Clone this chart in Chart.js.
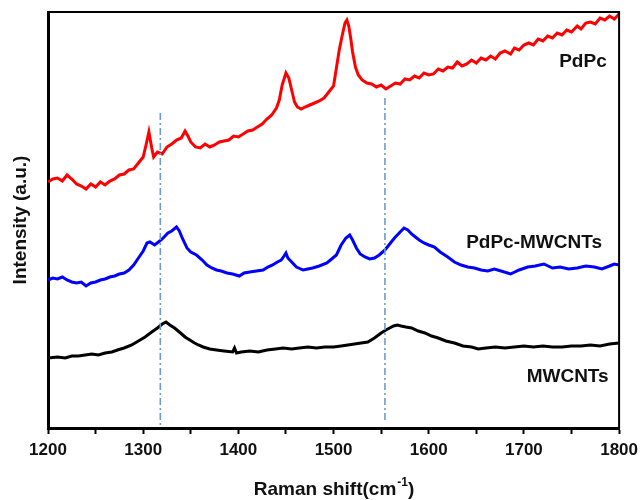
<!DOCTYPE html>
<html>
<head>
<meta charset="utf-8">
<script src="https://cdn.jsdelivr.net/npm/chart.js@4/dist/chart.umd.min.js"></script>
<style>
  html, body { margin: 0; padding: 0; background: #ffffff; }
  #wrap { width: 644px; height: 500px; position: relative; }
</style>
</head>
<body>
<div id="wrap"><canvas id="c" width="644" height="500"></canvas></div>
<script>
// ---- data (Raman shift in cm^-1, intensity in arbitrary units, offset traces) ----
const seriesNames = ['PdPc', 'PdPc-MWCNTs', 'MWCNTs'];

const pdpcX = [1200,1205,1210,1215,1220,1225,1230,1235,1240,1245,1250,1255,1260,1265,1270,1275,1280,1285,1290,1295,1300,1303,1306,1309,1311,1315,1320,1325,1330,1335,1340,1344,1347,1350,1355,1360,1365,1370,1375,1380,1385,1390,1395,1400,1405,1410,1415,1420,1425,1430,1435,1440,1443,1446,1450,1453,1456,1459,1462,1466,1470,1475,1480,1485,1490,1495,1500,1503,1506,1509,1512,1514,1516,1518,1520,1523,1526,1530,1535,1540,1545,1550,1555,1560,1565,1570,1575,1580,1585,1590,1595,1600,1605,1610,1615,1620,1625,1630,1635,1640,1645,1650,1655,1660,1665,1670,1675,1680,1686,1690,1695,1700,1705,1710,1715,1720,1725,1730,1735,1740,1745,1750,1756,1760,1765,1770,1775,1780,1785,1790,1795,1800];
const pdpcY = [246,249,250,247,253,249,244,242,239,244,241,246,243,247,249,253,254,258,259,265,271,283,296,280,271,276,274,281,284,288,290,297,292,286,281,280,284,281,283,286,287,288,292,291,294,297,298,301,304,309,313,320,328,343,355,350,338,326,321,319,321,323,325,327,330,336,342,360,378,392,405,408,402,390,376,361,353,348,345,344,341,343,339,342,345,344,349,348,352,350,355,353,354,359,357,361,360,366,362,364,368,365,370,368,372,369,375,377,374,380,378,383,385,383,389,387,392,390,395,393,398,396,402,399,405,406,404,410,408,412,409,414];

const hybX = [1200,1205,1210,1215,1220,1225,1230,1235,1240,1245,1250,1255,1260,1265,1270,1275,1280,1285,1290,1295,1300,1304,1307,1312,1316,1320,1326,1330,1335,1338,1341,1346,1350,1356,1362,1367,1372,1377,1382,1388,1394,1401,1406,1412,1419,1426,1431,1436,1441,1445,1448,1450,1452,1455,1461,1468,1473,1478,1485,1493,1498,1503,1508,1513,1517,1520,1524,1528,1533,1538,1543,1548,1554,1559,1564,1570,1574,1578,1582,1586,1590,1595,1600,1606,1612,1620,1627,1634,1641,1648,1655,1662,1669,1676,1686,1695,1704,1712,1721,1730,1738,1747,1756,1765,1774,1782,1790,1795,1800];
const hybY = [148,150,149,151,148,146,145,146,142,145,146,148,149,151,152,154,155,158,163,170,177,185,186,183,186,189,195,197,201,197,190,180,176,173,168,163,160,158,157,155,154,152,155,156,157,158,161,163,166,168,172,175,170,167,161,158,159,160,162,165,169,173,183,190,193,188,180,174,171,169,170,173,178,184,190,196,200,198,194,191,188,185,183,181,176,171,166,163,161,160,158,157,159,157,154,158,161,162,164,160,161,159,160,162,161,159,162,164,163];

const cntX = [1200,1210,1218,1225,1232,1239,1246,1253,1260,1267,1273,1280,1288,1295,1302,1309,1315,1320,1324,1328,1333,1338,1344,1349,1354,1358,1363,1370,1377,1385,1394,1396,1398,1403,1412,1421,1430,1439,1447,1456,1464,1473,1482,1491,1500,1508,1515,1522,1529,1536,1543,1550,1555,1559,1563,1567,1571,1576,1582,1589,1596,1603,1610,1618,1627,1636,1645,1652,1660,1670,1680,1690,1700,1710,1720,1730,1740,1750,1760,1770,1780,1790,1800];
const cntY = [70,71,70,72,72,73,74,73,75,76,78,80,83,87,91,96,100,104,106,103,100,96,91,88,85,83,81,79,78,77,76,80,75,76,77,76,78,79,80,79,80,81,80,81,81,82,83,84,85,86,90,95,98,100,102,103,102,101,100,97,95,92,90,87,85,82,81,79,80,81,80,81,82,81,82,81,81,82,82,83,82,84,85];

// reference dash-dot guide lines (band positions)
const guideX = [1318, 1554];
const guideTop = [315, 330];
const guideBottom = [0, 8];

const xTicks = [1200, 1300, 1400, 1500, 1600, 1700, 1800];

// ---- build datasets ----
function pts(xs, ys) { return xs.map((x, i) => ({ x: x, y: ys[i] })); }

const guideColor = '#6d9bd0';
const datasets = [];
guideX.forEach((gx, i) => {
  datasets.push({
    label: 'guide' + i,
    data: [{ x: gx, y: guideTop[i] }, { x: gx, y: guideBottom[i] }],
    borderColor: guideColor,
    borderWidth: 1.6,
    borderDash: [7, 3, 2, 3],
    pointRadius: 0,
    fill: false
  });
});
datasets.push({ label: seriesNames[0], data: pts(pdpcX, pdpcY), borderColor: '#ff0000', borderWidth: 3, pointRadius: 0, fill: false });
datasets.push({ label: seriesNames[1], data: pts(hybX, hybY), borderColor: '#0000ff', borderWidth: 3, pointRadius: 0, fill: false });
datasets.push({ label: seriesNames[2], data: pts(cntX, cntY), borderColor: '#000000', borderWidth: 3, pointRadius: 0, fill: false });

// label anchors (data units): right-aligned text
const labelAnchors = [
  { x: 1787, y: 366 },
  { x: 1782, y: 185 },
  { x: 1789, y: 51 }
];

const annotatePlugin = {
  id: 'annot',
  afterDraw(chart) {
    const ctx = chart.ctx;
    const xs = chart.scales.x, ys = chart.scales.y;
    const ca = chart.chartArea;
    ctx.save();
    // frame (top and right)
    ctx.strokeStyle = '#000';
    ctx.lineWidth = 2;
    ctx.beginPath();
    ctx.moveTo(ca.left, ca.top);
    ctx.lineTo(ca.right, ca.top);
    ctx.lineTo(ca.right, ca.bottom);
    ctx.stroke();
    // series labels
    ctx.fillStyle = '#111';
    ctx.font = 'bold 19px "Liberation Sans", Arial, sans-serif';
    ctx.textAlign = 'right';
    ctx.textBaseline = 'middle';
    seriesNames.forEach((n, i) => {
      ctx.fillText(n, xs.getPixelForValue(labelAnchors[i].x), ys.getPixelForValue(labelAnchors[i].y));
    });
    // x axis title with superscript
    const main = 'Raman shift(cm';
    const sup = '-1';
    const close = ')';
    const fMain = 'bold 19px "Liberation Sans", Arial, sans-serif';
    const fSup = 'bold 12px "Liberation Sans", Arial, sans-serif';
    ctx.font = fMain;
    const w1 = ctx.measureText(main).width;
    const w3 = ctx.measureText(close).width;
    ctx.font = fSup;
    const w2 = ctx.measureText(sup).width;
    const total = w1 + w2 + w3;
    const cx = (ca.left + ca.right) / 2;
    let x0 = cx - total / 2;
    const base = 495;
    ctx.textAlign = 'left';
    ctx.textBaseline = 'alphabetic';
    ctx.font = fMain;
    ctx.fillText(main, x0, base);
    ctx.font = fSup;
    ctx.fillText(sup, x0 + w1 + 1, base - 9);
    ctx.font = fMain;
    ctx.fillText(close, x0 + w1 + w2 + 1, base);
    ctx.restore();
  }
};

new Chart(document.getElementById('c'), {
  type: 'line',
  data: { datasets: datasets },
  options: {
    responsive: false,
    animation: false,
    devicePixelRatio: 1,
    layout: { padding: { top: 12, right: 24, left: 0, bottom: 0 } },
    plugins: { legend: { display: false }, tooltip: { enabled: false } },
    elements: { line: { tension: 0 } },
    scales: {
      x: {
        type: 'linear',
        min: 1200, max: 1800,
        afterFit(s) { s.height = 72; },
        afterBuildTicks(s) {
          const t = [];
          for (let v = 1200; v <= 1800; v += 50) t.push({ value: v });
          s.ticks = t;
        },
        ticks: {
          autoSkip: false, maxRotation: 0, padding: 6,
          color: '#111',
          font: { family: '"Liberation Sans", Arial, sans-serif', size: 17, weight: 'bold' },
          callback: (v) => (xTicks.includes(v) ? String(v) : '')
        },
        grid: { display: true, drawOnChartArea: false, drawTicks: true, tickLength: 6, tickWidth: 2, tickColor: '#000' },
        border: { display: true, color: '#000', width: 3 },
        title: { display: false }
      },
      y: {
        type: 'linear',
        min: 0, max: 416,
        afterFit(s) { s.width = 48; },
        ticks: { display: false },
        grid: { display: true, drawOnChartArea: false, drawTicks: false },
        border: { display: true, color: '#000', width: 3 },
        title: {
          display: true,
          text: 'Intensity (a.u.)',
          color: '#111',
          font: { family: '"Liberation Sans", Arial, sans-serif', size: 19, weight: 'bold' },
          padding: { top: 9, bottom: 0 }
        }
      }
    }
  },
  plugins: [annotatePlugin]
});
</script>
</body>
</html>
